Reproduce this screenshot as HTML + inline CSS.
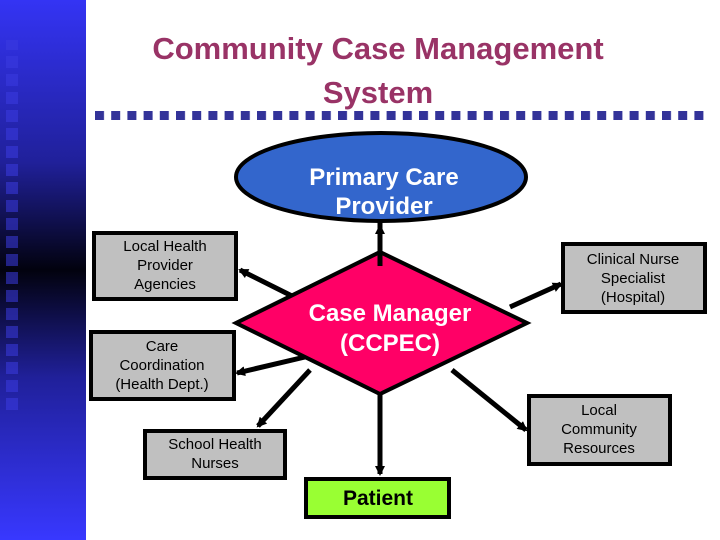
<!DOCTYPE html>
<html><head><style>
html,body{margin:0;padding:0;background:#fff;}
svg{display:block;}
</style></head><body>
<svg width="720" height="540" viewBox="0 0 720 540" xmlns="http://www.w3.org/2000/svg" font-family="Liberation Sans, DejaVu Sans, sans-serif">
<defs>
<linearGradient id="bar" x1="0" y1="0" x2="0" y2="1">
<stop offset="0" stop-color="#3434f4"/>
<stop offset="0.3" stop-color="#20209a"/>
<stop offset="0.5" stop-color="#02020e"/>
<stop offset="0.7" stop-color="#20209a"/>
<stop offset="1" stop-color="#3838ff"/>
</linearGradient>
<pattern id="sq" x="0" y="0" width="20" height="18" patternUnits="userSpaceOnUse">
<rect x="6" y="2" width="12" height="12" fill="#3a3ae0" opacity="0.55"/>
</pattern>
<pattern id="dots" x="95" y="0" width="16.2" height="20" patternUnits="userSpaceOnUse">
<rect x="0" y="0" width="9" height="20" fill="#333399"/>
</pattern>
<marker id="ah" markerWidth="10" markerHeight="10" refX="8" refY="5" orient="auto" markerUnits="userSpaceOnUse">
<path d="M0,0 L10,5 L0,10 Z" fill="#000"/>
</marker>
</defs>
<rect x="0" y="0" width="86" height="540" fill="url(#bar)"/>
<rect x="0" y="40" width="20" height="370" fill="url(#sq)"/>
<text x="378" y="59" text-anchor="middle" font-size="31" font-weight="bold" fill="#993366">Community Case Management</text>
<text x="378" y="103" text-anchor="middle" font-size="31" font-weight="bold" fill="#993366">System</text>
<rect x="95" y="111" width="610" height="9" fill="url(#dots)"/>

<g stroke="#000" stroke-width="5" fill="none">
<line x1="380" y1="235" x2="380" y2="276" marker-end="url(#ah)"/>
<line x1="380" y1="260" x2="380" y2="226" marker-end="url(#ah)"/>
<line x1="300" y1="300" x2="240" y2="270" marker-end="url(#ah)"/>
<line x1="305" y1="357" x2="237" y2="373" marker-end="url(#ah)"/>
<line x1="310" y1="370" x2="258" y2="426" marker-end="url(#ah)"/>
<line x1="380" y1="395" x2="380" y2="474" marker-end="url(#ah)"/>
<line x1="510" y1="307" x2="561" y2="284" marker-end="url(#ah)"/>
<line x1="452" y1="370" x2="526" y2="430" marker-end="url(#ah)"/>
</g>

<ellipse cx="381" cy="177" rx="145" ry="44" fill="#3366cc" stroke="#000" stroke-width="4"/>
<text x="384" y="185" text-anchor="middle" font-size="24" font-weight="bold" fill="#fff">Primary Care</text>
<text x="384" y="214" text-anchor="middle" font-size="24" font-weight="bold" fill="#fff">Provider</text>
<line x1="380" y1="221" x2="380" y2="235" stroke="#000" stroke-width="5"/>

<polygon points="380,252 527,323 380,394 236,323" fill="#ff0066" stroke="#000" stroke-width="4"/>
<text x="390" y="321" text-anchor="middle" font-size="24" font-weight="bold" fill="#fff">Case Manager</text>
<text x="390" y="351" text-anchor="middle" font-size="24" font-weight="bold" fill="#fff">(CCPEC)</text>
<line x1="380" y1="252" x2="380" y2="266" stroke="#000" stroke-width="5"/>

<g fill="#c0c0c0" stroke="#000" stroke-width="4">
<rect x="94" y="233" width="142" height="66"/>
<rect x="91" y="332" width="143" height="67"/>
<rect x="145" y="431" width="140" height="47"/>
<rect x="563" y="244" width="142" height="68"/>
<rect x="529" y="396" width="141" height="68"/>
</g>
<rect x="306" y="479" width="143" height="38" fill="#99ff33" stroke="#000" stroke-width="4"/>
<g font-size="15" fill="#000" text-anchor="middle">
<text x="165" y="251">Local Health</text>
<text x="165" y="270">Provider</text>
<text x="165" y="289">Agencies</text>
<text x="162" y="351">Care</text>
<text x="162" y="370">Coordination</text>
<text x="162" y="389">(Health Dept.)</text>
<text x="215" y="449">School Health</text>
<text x="215" y="468">Nurses</text>
<text x="633" y="264">Clinical Nurse</text>
<text x="633" y="283">Specialist</text>
<text x="633" y="302">(Hospital)</text>
<text x="599" y="415">Local</text>
<text x="599" y="434">Community</text>
<text x="599" y="453">Resources</text>
</g>
<text x="378" y="505" text-anchor="middle" font-size="21" font-weight="bold" fill="#000">Patient</text>
</svg>
</body></html>
